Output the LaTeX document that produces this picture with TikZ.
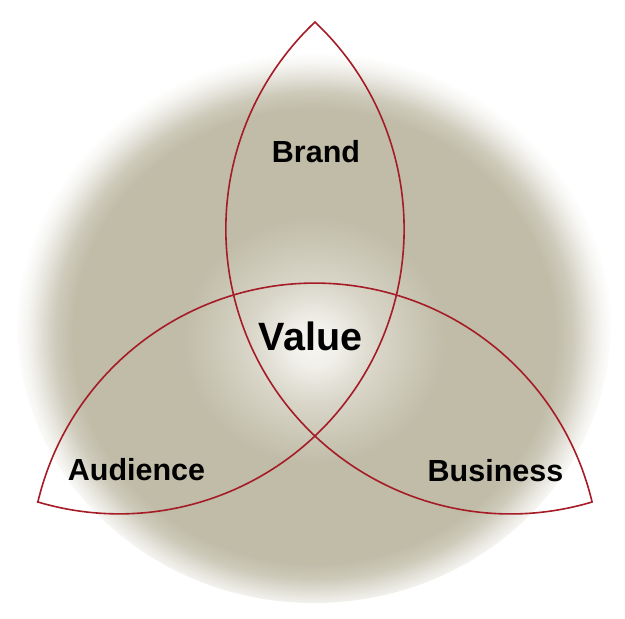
\documentclass[tikz,border=0pt]{standalone}
\usepackage{fontspec}
\setmainfont{Liberation Sans}
\definecolor{khaki}{RGB}{192,188,168}
\definecolor{spot}{RGB}{246,245,240}
\definecolor{rim}{RGB}{165,28,38}
\pgfdeclareradialshading{glow}{\pgfpoint{0bp}{-2bp}}{color(0bp)=(spot); color(2bp)=(spot!90!khaki); color(5.5bp)=(khaki!55!spot); color(11bp)=(khaki); color(20.3bp)=(khaki); color(21.8bp)=(khaki!78!white); color(23bp)=(khaki!45!white); color(24.2bp)=(khaki!15!white); color(25.2bp)=(white); color(50bp)=(white)}

\begin{document}
\begin{tikzpicture}[x=1pt,y=1pt]
    \tikzstyle{every node}+=[inner sep=0pt]
    \tikzstyle{petal}=[font=\bfseries\fontsize{30.5}{36}\selectfont]
    \useasboundingbox (-315,-277) rectangle (310,342);
    % blurred disc behind the knot
    \shade[shading=glow] (-1,19) ellipse (297 and 280);
    % outer tips
    \coordinate (brandtip) at (90:320);
    \coordinate (audtip) at (210:320);
    \coordinate (busitip) at (330:320);
    \draw [rim, line width=1.6pt, line join=miter] (audtip)
        arc [start angle=166.6, end angle=13.4, radius=284.88]
        arc [start angle=286.6, end angle=133.4, radius=284.88]
        arc [start angle=46.6, end angle=-106.6, radius=284.88] -- cycle;
    \node [petal] (brand) at (1,190) {Brand};
    \node [petal] (audience) at (-178.5,-128) {Audience};
    \node [petal] (business) at (180.5,-128.5) {Business};
    \node [font=\bfseries\fontsize{39.5}{46}\selectfont] (value) at (-4.5,6) {Value};
\end{tikzpicture}
\end{document}
